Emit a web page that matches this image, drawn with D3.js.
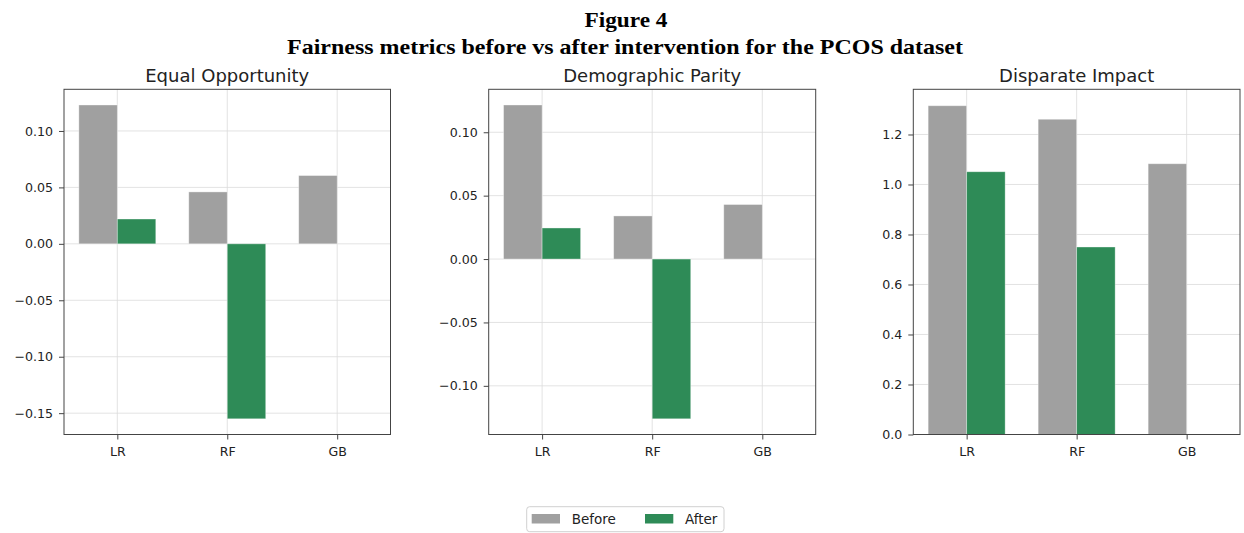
<!DOCTYPE html>
<html>
<head>
<meta charset="utf-8">
<script src="https://cdn.jsdelivr.net/npm/d3@7"></script>
<style>
  html, body { margin: 0; padding: 0; background: #fff; }
  svg { display: block; }
  text { font-family: "DejaVu Sans", sans-serif; fill: #222; }
</style>
</head>
<body>
<svg id="chart" width="1244" height="533"></svg>
<script>
// ---- Data ----
const categories = ["LR", "RF", "GB"];
const seriesNames = ["Before", "After"];
const panelTitles = ["Equal Opportunity", "Demographic Parity", "Disparate Impact"];

const eqOppBefore = [0.123, 0.046, 0.0605];
const eqOppAfter  = [0.022, -0.155, 0];
const demParBefore = [0.1215, 0.034, 0.043];
const demParAfter  = [0.0245, -0.126, 0];
const dispImpBefore = [1.315, 1.261, 1.083];
const dispImpAfter  = [1.051, 0.75, 0];

const eqOppTicks  = [-0.15, -0.10, -0.05, 0.00, 0.05, 0.10];
const demParTicks = [-0.10, -0.05, 0.00, 0.05, 0.10];
const dispImpTicks = [0.0, 0.2, 0.4, 0.6, 0.8, 1.0, 1.2];

const mainTitle1 = "Figure 4";
const mainTitle2 = "Fairness metrics before vs after intervention for the PCOS dataset";

// ---- Layout ----
const colors = { Before: "#a0a0a0", After: "#2e8b57" };
const panels = [
  { title: panelTitles[0], before: eqOppBefore, after: eqOppAfter, ticks: eqOppTicks, fmt: ".2f", left: 64, right: 390.5 },
  { title: panelTitles[1], before: demParBefore, after: demParAfter, ticks: demParTicks, fmt: ".2f", left: 488.7, right: 815.7 },
  { title: panelTitles[2], before: dispImpBefore, after: dispImpAfter, ticks: dispImpTicks, fmt: ".1f", left: 913.3, right: 1240, zeroFloor: true }
];
const plotTop = 89.3, plotBottom = 434.5;
const barW = 0.35;
const tickFont = "12.6px";

const svg = d3.select("#chart");

// Main title
svg.append("text").attr("x", 626).attr("y", 27).attr("text-anchor", "middle")
  .style("font-family", "'Liberation Serif', 'Times New Roman', serif")
  .style("font-weight", "bold").style("font-size", "21px").style("fill", "#000")
  .attr("textLength", 83).attr("lengthAdjust", "spacingAndGlyphs")
  .text(mainTitle1);
svg.append("text").attr("x", 625).attr("y", 54).attr("text-anchor", "middle")
  .style("font-family", "'Liberation Serif', 'Times New Roman', serif")
  .style("font-weight", "bold").style("font-size", "21px").style("fill", "#000")
  .attr("textLength", 676).attr("lengthAdjust", "spacingAndGlyphs")
  .text(mainTitle2);

panels.forEach(p => {
  const all = p.before.concat(p.after);
  const mn = d3.min(all), mx = d3.max(all);
  const span = mx - mn;
  const y0 = p.zeroFloor ? 0 : mn - 0.05 * span;
  const y1 = mx + 0.05 * span;
  const y = d3.scaleLinear().domain([y0, y1]).range([plotBottom, plotTop]);
  const xSpan = (categories.length - 1 + barW) - (-barW);
  const x = d3.scaleLinear().domain([-barW - 0.05 * xSpan, categories.length - 1 + barW + 0.05 * xSpan]).range([p.left, p.right]);

  const g = svg.append("g");

  // grid
  g.append("g").selectAll("line").data(p.ticks).join("line")
    .attr("x1", p.left).attr("x2", p.right)
    .attr("y1", d => y(d)).attr("y2", d => y(d))
    .attr("stroke", "#dcdcdc").attr("stroke-width", 0.8);
  g.append("g").selectAll("line").data(categories).join("line")
    .attr("x1", (d, i) => x(i)).attr("x2", (d, i) => x(i))
    .attr("y1", plotTop).attr("y2", plotBottom)
    .attr("stroke", "#dcdcdc").attr("stroke-width", 0.8);

  // bars
  const series = [
    { name: "Before", vals: p.before, off: -barW },
    { name: "After", vals: p.after, off: 0 }
  ];
  series.forEach(s => {
    g.append("g").selectAll("rect").data(s.vals).join("rect")
      .attr("x", (d, i) => x(i + s.off))
      .attr("width", (d, i) => x(i + s.off + barW) - x(i + s.off))
      .attr("y", d => Math.min(y(d), y(0)))
      .attr("height", d => Math.abs(y(d) - y(0)))
      .attr("fill", colors[s.name])
      .attr("stroke", "rgba(255,255,255,0.45)").attr("stroke-width", 0.8);
  });

  // frame
  g.append("rect").attr("x", p.left).attr("y", plotTop)
    .attr("width", p.right - p.left).attr("height", plotBottom - plotTop)
    .attr("fill", "none").attr("stroke", "#444").attr("stroke-width", 1);

  // y axis
  const fmt = d3.format(p.fmt);
  const ya = g.append("g").attr("transform", `translate(${p.left},0)`)
    .call(d3.axisLeft(y).tickValues(p.ticks).tickFormat(fmt).tickSize(5).tickPadding(6));
  ya.select(".domain").remove();
  ya.selectAll(".tick line").attr("stroke", "#444");
  ya.selectAll(".tick text").style("font-size", tickFont).style("font-family", "'DejaVu Sans', sans-serif").attr("fill", "#222");

  // x axis
  const xa = g.append("g").attr("transform", `translate(0,${plotBottom})`)
    .call(d3.axisBottom(x).tickValues(categories.map((c, i) => i)).tickFormat(i => categories[i]).tickSize(5).tickPadding(7.5));
  xa.select(".domain").remove();
  xa.selectAll(".tick line").attr("stroke", "#444");
  xa.selectAll(".tick text").style("font-size", tickFont).style("font-family", "'DejaVu Sans', sans-serif").attr("fill", "#222");

  // panel title
  g.append("text").attr("x", (p.left + p.right) / 2).attr("y", 82)
    .attr("text-anchor", "middle").style("font-size", "18px")
    .text(p.title);
});

// Legend
const lg = svg.append("g");
lg.append("rect").attr("x", 526.7).attr("y", 506.7).attr("width", 197.3).attr("height", 25)
  .attr("rx", 3).attr("fill", "#fff").attr("stroke", "#d0d0d0").attr("stroke-width", 1);
const legendX = d3.scaleOrdinal().domain(seriesNames).range([531.7, 645]);
seriesNames.forEach(n => {
  lg.append("rect").attr("x", legendX(n)).attr("y", 514).attr("width", 28.3).attr("height", 9.5)
    .attr("fill", colors[n]);
  lg.append("text").attr("x", legendX(n) + 40).attr("y", 524.3)
    .style("font-size", "13.5px").text(n);
});
</script>
</body>
</html>
